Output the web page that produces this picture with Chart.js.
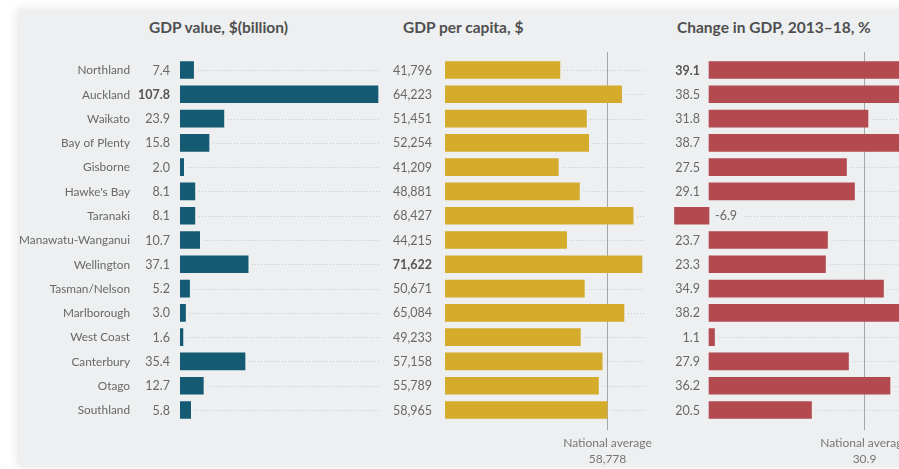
<!DOCTYPE html>
<html>
<head>
<meta charset="utf-8">
<script src="https://cdn.jsdelivr.net/npm/chart.js@4.4.1/dist/chart.umd.min.js"></script>
<style>
  html, body { margin: 0; padding: 0; background: #fff; overflow: hidden; width: 899px; height: 469px; }
  #panel { position: absolute; left: 20px; top: 9px; width: 900px; height: 458px; background: #edeff0;
           box-shadow: -3px 0 9px rgba(0,0,0,0.10); }
  canvas { position: absolute; top: 0; }
  .head { position: absolute; top: 18px; font: bold 15.5px Lato, sans-serif; color: #4f4f4f; white-space: nowrap; }
</style>
</head>
<body>
<div id="panel"></div>
<div class="head" style="left:149px">GDP value, $(billion)</div>
<div class="head" style="left:403px">GDP per capita, $</div>
<div class="head" style="left:677px">Change in GDP, 2013–18, %</div>
<canvas id="gdpValue" width="400" height="469" style="left:0px"></canvas>
<canvas id="gdpPerCapita" width="280" height="469" style="left:380px"></canvas>
<canvas id="gdpChange" width="320" height="469" style="left:640px"></canvas>
<script>
const regions = ['Northland', 'Auckland', 'Waikato', 'Bay of Plenty', 'Gisborne', "Hawke's Bay", 'Taranaki',
  'Manawatu-Wanganui', 'Wellington', 'Tasman/Nelson', 'Marlborough', 'West Coast', 'Canterbury', 'Otago', 'Southland'];
const gdpValue = [7.4, 107.8, 23.9, 15.8, 2.0, 8.1, 8.1, 10.7, 37.1, 5.2, 3.0, 1.6, 35.4, 12.7, 5.8];
const gdpPerCapita = [41796, 64223, 51451, 52254, 41209, 48881, 68427, 44215, 71622, 50671, 65084, 49233, 57158, 55789, 58965];
const gdpChange = [39.1, 38.5, 31.8, 38.7, 27.5, 29.1, -6.9, 23.7, 23.3, 34.9, 38.2, 1.1, 27.9, 36.2, 20.5];
const perCapitaAverage = 58778;
const changeAverage = 30.9;

const FONT = 'Lato, sans-serif';
const TEXT = '#686868';

function rowPlugin(opts) {
  return {
    id: 'rows',
    beforeDatasetsDraw(chart) {
      const { ctx, chartArea } = chart;
      const xs = chart.scales.x, ys = chart.scales.y;
      const data = chart.data.datasets[0].data;
      ctx.save();
      // dotted track after each bar
      ctx.strokeStyle = '#c4c8cb';
      ctx.lineWidth = 1;
      ctx.setLineDash([1, 2]);
      data.forEach((v, i) => {
        const y = Math.round(ys.getPixelForValue(i)) + 0.5;
        let start = xs.getPixelForValue(Math.max(v, 0)) + 4;
        if (v < 0) {
          ctx.font = '12.5px ' + FONT;
          start = xs.getPixelForValue(0) + 6 + ctx.measureText(opts.format(v)).width + 8;
        }
        if (start < chartArea.right) {
          ctx.beginPath();
          ctx.moveTo(start, y);
          ctx.lineTo(chartArea.right, y);
          ctx.stroke();
        }
      });
      ctx.setLineDash([]);
      // national average reference line
      if (opts.average !== undefined) {
        const ax = Math.round(xs.getPixelForValue(opts.average)) + 0.5;
        ctx.strokeStyle = '#a4a7aa';
        ctx.beginPath();
        ctx.moveTo(ax, chartArea.top - 6);
        ctx.lineTo(ax, chartArea.bottom + 8);
        ctx.stroke();
        ctx.fillStyle = '#777';
        ctx.font = '12px ' + FONT;
        ctx.textAlign = 'center';
        ctx.textBaseline = 'middle';
        ctx.fillText('National average', ax, 443);
        ctx.fillText(opts.format(opts.average), ax, 459);
      }
      ctx.restore();
    },
    afterDatasetsDraw(chart) {
      const { ctx, chartArea } = chart;
      const xs = chart.scales.x, ys = chart.scales.y;
      const data = chart.data.datasets[0].data;
      const max = Math.max(...data);
      ctx.save();
      ctx.textBaseline = 'middle';
      data.forEach((v, i) => {
        const y = ys.getPixelForValue(i) + 0.5;
        const bold = v === max;
        ctx.font = (bold ? 'bold ' : '') + '12.5px ' + FONT;
        ctx.fillStyle = bold ? '#555' : TEXT;
        if (v < 0) {
          ctx.textAlign = 'left';
          ctx.fillText(opts.format(v), xs.getPixelForValue(0) + 6, y);
        } else {
          ctx.textAlign = 'right';
          ctx.fillText(opts.format(v), xs.getPixelForValue(0) - opts.labelGap, y);
        }
        if (opts.names) {
          ctx.font = '11.8px ' + FONT;
          ctx.fillStyle = TEXT;
          ctx.textAlign = 'right';
          ctx.fillText(regions[i], chartArea.left - 50, y);
        }
      });
      ctx.restore();
    }
  };
}

function makeChart(id, canvasLeft, canvasWidth, areaLeft, areaRight, min, max, values, color, opts) {
  return new Chart(document.getElementById(id), {
    type: 'bar',
    data: {
      labels: regions,
      datasets: [{ data: values, backgroundColor: color, borderWidth: 0, barThickness: 17 }]
    },
    options: {
      indexAxis: 'y',
      responsive: false,
      animation: false,
      events: [],
      layout: {
        padding: {
          left: areaLeft - canvasLeft,
          right: canvasLeft + canvasWidth - areaRight,
          top: 57.86,
          bottom: 46.86
        }
      },
      plugins: { legend: { display: false }, title: { display: false }, tooltip: { enabled: false } },
      scales: {
        x: { type: 'linear', min: min, max: max, display: false },
        y: { type: 'category', display: false, offset: true }
      }
    },
    plugins: [rowPlugin(opts)]
  });
}

makeChart('gdpValue', 0, 400, 180, 380, 0, 108.9, gdpValue, '#135a72',
  { names: true, labelGap: 10, format: v => v.toFixed(1) });
makeChart('gdpPerCapita', 380, 280, 445, 645, 0, 72727, gdpPerCapita, '#d5ab2b',
  { labelGap: 13, average: perCapitaAverage, format: v => v.toLocaleString('en-US') });
makeChart('gdpChange', 640, 320, 669, 959, -8, 50, gdpChange, '#b24a50',
  { labelGap: 9, average: changeAverage, format: v => v.toFixed(1) });
</script>
</body>
</html>
